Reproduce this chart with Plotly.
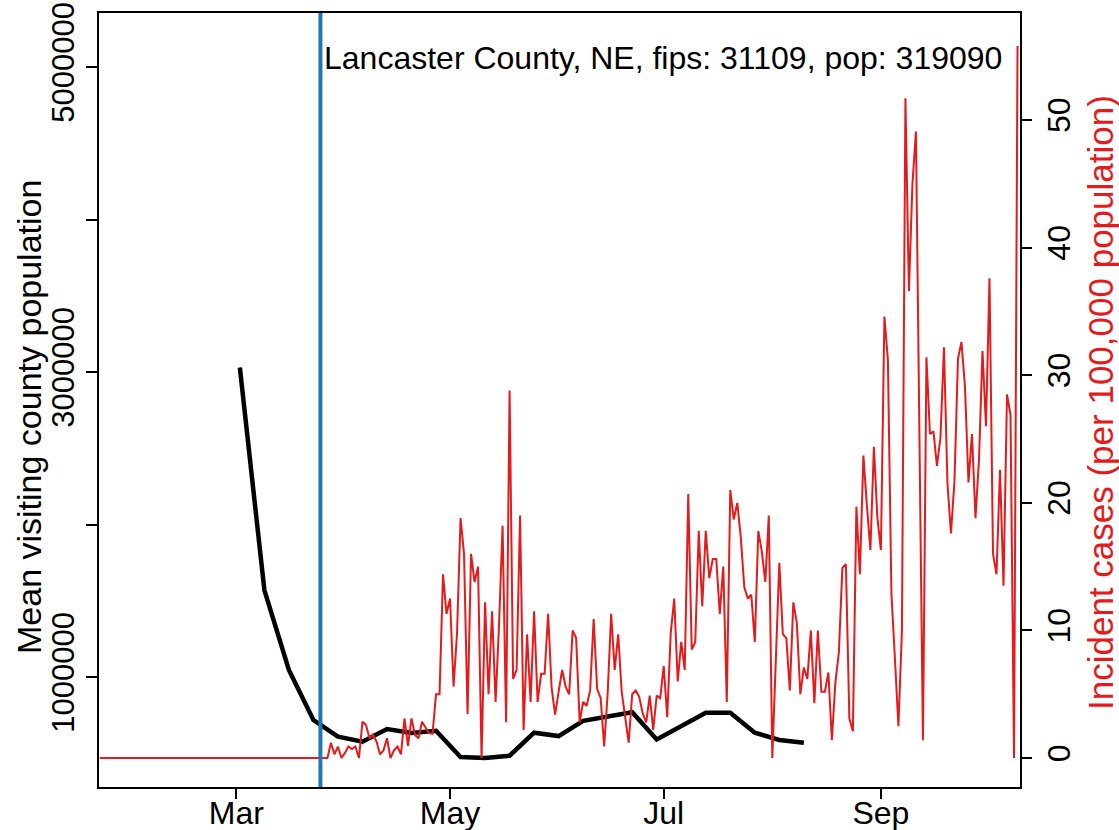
import pandas as pd
import plotly.graph_objects as go

# ---------------- data ----------------
red_start = "2020-01-22"
incident_cases = [
    # Jan 22 - Mar 27 : no cases
    0, 0, 0, 0, 0, 0, 0, 0, 0, 0, 0, 0, 0, 0, 0, 0, 0, 0, 0, 0,
    0, 0, 0, 0, 0, 0, 0, 0, 0, 0, 0, 0, 0, 0, 0, 0, 0, 0, 0, 0,
    0, 0, 0, 0, 0, 0, 0, 0, 0, 0, 0, 0, 0, 0, 0, 0, 0, 0, 0, 0,
    0, 0, 0, 0, 0, 0,
    # Mar 28 onwards
    1.2, 0.3, 0.9, 0, 0.4, 0.9, 0.7, 0.9, 0,
    2.85, 2.6, 1.55, 1.85, 1.3, 0.3, 0.6, 1.55, 0, 0.6,
    0.9, 0.3, 3.1, 0.95, 3.1, 1.8, 1.55, 2.85, 2.45, 1.95,
    1.9, 5.0, 5.0, 14.4, 11.3, 12.5, 5.6, 9.8, 18.8, 16.0,
    3.45, 16.0, 13.8, 15.0, 0, 12.2, 5.0, 11.5, 4.4, 10.5,
    18.2, 2.8, 28.8, 6.2, 6.9, 19.0, 2.2, 9.7, 4.4, 11.5,
    4.4, 6.6, 6.6, 11.3, 5.5, 3.4, 5.2, 6.9, 5.6, 5.0,
    10.0, 9.4, 2.8, 4.4, 4.1, 5.3, 10.9, 5.4, 4.7, 0.9,
    5.1, 11.3, 6.9, 9.7, 5.2, 3.3, 1.2, 5.0, 5.3, 4.8,
    3.5, 2.8, 4.9, 2.2, 4.9, 4.7, 7.2, 3.2, 9.8, 12.5,
    6.0, 9.1, 6.9, 20.7, 8.5, 9.1, 17.8, 11.9, 17.8, 14.1,
    15.6, 15.6, 11.3, 15.0, 4.4, 21.0, 18.7, 20.0, 17.3, 13.4,
    12.5, 12.8, 9.1, 17.8, 16.2, 13.8, 19.0, 0, 7.2, 15.3,
    9.7, 9.4, 5.3, 12.2, 10.6, 5.0, 7.1, 6.2, 10.0, 4.3,
    10.0, 5.2, 5.2, 6.7, 1.4, 5.9, 8.3, 14.9, 15.2, 3.1,
    2.1, 19.7, 14.4, 23.7, 19.8, 16.3, 24.4, 18.8, 16.3, 34.6,
    31.2, 12.9, 7.8, 2.5, 10.0, 51.7, 36.6, 45.0, 49.1, 25.0,
    1.4, 31.4, 25.4, 25.6, 22.9, 25.1, 32.2, 21.5, 17.6, 21.7,
    31.3, 32.6, 29.1, 21.6, 25.4, 18.8, 23.4, 31.9, 26.0, 37.6,
    16.0, 14.4, 22.6, 13.5, 28.5, 26.9, 0, 55.8,
]

black_start = "2020-03-02"
mean_visiting_pop = [
    3030000, 1570000, 1046000, 718000, 609000, 576000, 659000, 633000,
    648000, 475000, 469000, 484000, 635000, 613000, 713000, 740000,
    769000, 591000, 679000, 766000, 766000, 635000, 587000, 569000,
]

intervention_date = "2020-03-25"
title_text = "Lancaster County, NE, fips: 31109, pop: 319090"
x_tick_dates = ["2020-03-01", "2020-05-01", "2020-07-01", "2020-09-01"]
x_tick_labels = ["Mar", "May", "Jul", "Sep"]
left_tick_vals = [1000000, 2000000, 3000000, 4000000, 5000000]
left_tick_text = ["1000000", "", "3000000", "", "5000000"]
right_tick_vals = [0, 10, 20, 30, 40, 50]

RED = "#E41A1C"
BLUE = "#1F78B4"
FONT = "Liberation Sans, Arial, Helvetica, sans-serif"

red_dates = pd.date_range(red_start, periods=len(incident_cases), freq="D")
black_dates = pd.date_range(black_start, periods=len(mean_visiting_pop), freq="7D")

fig = go.Figure()
fig.add_trace(go.Scatter(
    x=black_dates, y=mean_visiting_pop, mode="lines",
    line=dict(color="black", width=4.5), yaxis="y", showlegend=False,
))
fig.add_trace(go.Scatter(
    x=red_dates, y=incident_cases, mode="lines",
    line=dict(color=RED, width=2), yaxis="y2", showlegend=False,
))

fig.add_shape(type="line", xref="x", yref="paper",
              x0=intervention_date, x1=intervention_date, y0=0, y1=1,
              line=dict(color=BLUE, width=4), layer="above")

fig.add_annotation(text=title_text, xref="paper", yref="paper", x=1, y=1,
                   xanchor="right", yanchor="middle", xshift=-16, yshift=-45,
                   showarrow=False, font=dict(size=32, color="black", family=FONT))
fig.add_annotation(text="Mean visiting county population", xref="paper", yref="paper",
                   x=0, y=0.5, xanchor="center", yanchor="middle", xshift=-70, yshift=-17,
                   textangle=-90, showarrow=False,
                   font=dict(size=34, color="black", family=FONT))
fig.add_annotation(text="Incident cases (per 100,000 population)", xref="paper", yref="paper",
                   x=1, y=0.5, xanchor="center", yanchor="middle", xshift=80, yshift=-3,
                   textangle=-90, showarrow=False,
                   font=dict(size=35, color=RED, family=FONT))

fig.update_layout(
    autosize=True,
    margin=dict(l=99, r=99, t=13, b=43),
    plot_bgcolor="white", paper_bgcolor="white",
    font=dict(family=FONT, size=31, color="black"),
    xaxis=dict(
        type="date", range=["2020-01-21 19:00", "2020-10-10 17:00"],
        tickvals=x_tick_dates, ticktext=x_tick_labels,
        showgrid=False, zeroline=False, showline=True, mirror=True,
        linecolor="black", linewidth=1.5, ticks="outside", ticklen=10,
        tickwidth=1.5, tickcolor="black", tickfont=dict(size=32),
        ticklabelstandoff=-13, automargin=False,
    ),
    yaxis=dict(
        range=[279000, 5354000], tickvals=left_tick_vals, ticktext=left_tick_text,
        showgrid=False, zeroline=False, showline=True, mirror=True,
        linecolor="black", linewidth=1.5, ticks="outside", ticklen=11,
        tickwidth=1.5, tickcolor="black", tickangle=-90, tickfont=dict(size=31),
        automargin=False,
    ),
    yaxis2=dict(
        range=[-2.27, 58.39], tickvals=right_tick_vals, overlaying="y", side="right",
        showgrid=False, zeroline=False, showline=False,
        ticks="outside", ticklen=11, tickwidth=1.5, tickcolor="black",
        tickangle=-90, tickfont=dict(size=32), automargin=False,
    ),
)

fig.write_html(
    "out.html",
    default_width="100vw",
    default_height="100vh",
    config={"displayModeBar": False},
    post_script=(
        "document.body.style.margin='0';"
        "document.documentElement.style.overflow='hidden';"
        "document.body.style.overflow='hidden';"
    ),
)
